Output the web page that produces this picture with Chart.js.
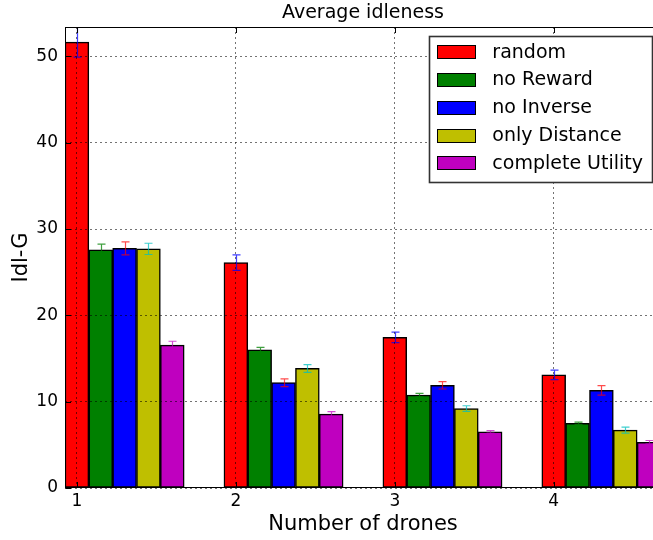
<!DOCTYPE html>
<html>
<head>
<meta charset="utf-8">
<title>Average idleness</title>
<script src="https://cdn.jsdelivr.net/npm/chart.js@4.4.1/dist/chart.umd.min.js"></script>
<style>
  html, body { margin: 0; padding: 0; background: #fff; overflow: hidden; }
  /* the plot frame runs a few pixels past the right edge of the window */
  #wrap { width: 661px; height: 540px; }
</style>
</head>
<body>
<div id="wrap"><canvas id="c" width="661" height="540"></canvas></div>
<script>
// Number of drones on the x axis
const droneCounts = [1, 2, 3, 4];
const xTicks = [1, 2, 3, 4];
const yTicks = [0, 10, 20, 30, 40, 50];

// Series names
const seriesNames = ['random', 'no Reward', 'no Inverse', 'only Distance', 'complete Utility'];

// Mean Idl-G per strategy and its spread
const randomIdl = [51.65, 26.1, 17.45, 13.1];
const randomErr = [1.75, 0.9, 0.6, 0.55];
const noRewardIdl = [27.6, 16.0, 10.75, 7.5];
const noRewardErr = [0.65, 0.3, 0.2, 0.12];
const noInverseIdl = [27.75, 12.2, 11.9, 11.3];
const noInverseErr = [0.75, 0.45, 0.43, 0.55];
const onlyDistanceIdl = [27.7, 13.85, 9.2, 6.7];
const onlyDistanceErr = [0.65, 0.45, 0.33, 0.35];
const completeUtilityIdl = [16.55, 8.55, 6.5, 5.3];
const completeUtilityErr = [0.45, 0.3, 0.15, 0.2];

const seriesValues = [randomIdl, noRewardIdl, noInverseIdl, onlyDistanceIdl, completeUtilityIdl];
const seriesErrors = [randomErr, noRewardErr, noInverseErr, onlyDistanceErr, completeUtilityErr];

const fillColors = ['#ff0000', '#008000', '#0000ff', '#bfbf00', '#bf00bf'];
const errColors = ['rgba(0,0,255,0.75)', 'rgba(0,128,0,0.75)', 'rgba(255,0,0,0.7)', 'rgba(0,191,191,0.75)', 'rgba(191,0,191,0.7)'];

const FONT = '"DejaVu Sans", "Bitstream Vera Sans", sans-serif';
const barStep = 0.15;   // each bar is one step wide, groups start at the drone count

const datasets = seriesNames.map((name, i) => ({
  label: name,
  data: droneCounts.map((d, j) => ({ x: d + i * barStep, y: seriesValues[i][j] })),
  errors: seriesErrors[i],
  errColor: errColors[i],
  backgroundColor: fillColors[i],
  borderColor: '#000',
  borderWidth: 1.5,
  borderSkipped: false
}));

// White page background
const whiteBg = {
  id: 'whiteBg',
  beforeDraw(chart) {
    const { ctx, width, height } = chart;
    ctx.save();
    ctx.fillStyle = '#fff';
    ctx.fillRect(0, 0, width, height);
    ctx.restore();
  }
};

// Vertical error bars with caps
const errorBars = {
  id: 'errorBars',
  afterDatasetsDraw(chart) {
    const { ctx, chartArea: a, scales: { y } } = chart;
    ctx.save();
    ctx.beginPath();
    ctx.rect(a.left, a.top, a.right - a.left, a.bottom - a.top);
    ctx.clip();
    ctx.lineWidth = 1.2;
    chart.data.datasets.forEach((ds, i) => {
      const meta = chart.getDatasetMeta(i);
      ctx.strokeStyle = ds.errColor;
      meta.data.forEach((bar, j) => {
        const v = ds.data[j].y, e = ds.errors[j];
        const top = y.getPixelForValue(v + e);
        const bot = y.getPixelForValue(v - e);
        const cx = Math.round(bar.x) + 0.5;
        ctx.beginPath();
        ctx.moveTo(cx, top); ctx.lineTo(cx, bot);
        ctx.moveTo(cx - 4, top); ctx.lineTo(cx + 4, top);
        ctx.moveTo(cx - 4, bot); ctx.lineTo(cx + 4, bot);
        ctx.stroke();
      });
    });
    ctx.restore();
  }
};

// Axes frame with inward tick marks
const frameTicks = {
  id: 'frameTicks',
  afterDraw(chart) {
    const { ctx, chartArea: a, scales: { x, y } } = chart;
    const L = Math.round(a.left) + 0.5, R = Math.round(a.right) - 0.5;
    const T = Math.round(a.top) + 0.5, B = Math.round(a.bottom) - 0.5;
    ctx.save();
    ctx.strokeStyle = '#000';
    ctx.lineWidth = 1;
    ctx.beginPath();
    xTicks.forEach(v => {
      const px = Math.round(x.getPixelForValue(v)) + 0.5;
      ctx.moveTo(px, B); ctx.lineTo(px, B - 5.5);
      ctx.moveTo(px, T); ctx.lineTo(px, T + 5.5);
    });
    yTicks.forEach(v => {
      const py = Math.round(y.getPixelForValue(v)) + 0.5;
      ctx.moveTo(L, py); ctx.lineTo(L + 5.5, py);
      ctx.moveTo(R, py); ctx.lineTo(R - 5.5, py);
    });
    ctx.stroke();
    ctx.strokeRect(L, T, R - L, B - T);
    ctx.restore();
  }
};

// Boxed legend in the upper right corner of the plot
const boxLegend = {
  id: 'boxLegend',
  afterDraw(chart) {
    const { ctx, chartArea: a } = chart;
    const size = 19, rowH = 27.75;
    ctx.save();
    ctx.font = size + 'px ' + FONT;
    const textW = Math.max(...chart.data.datasets.map(d => ctx.measureText(d.label).width));
    const w = 63 + textW + 9;
    const h = 146;
    const right = a.right - 9, top = a.top + 9;
    const left = right - w;
    ctx.fillStyle = '#fff';
    ctx.fillRect(left, top, w, h);
    ctx.strokeStyle = '#333';
    ctx.lineWidth = 1.6;
    ctx.strokeRect(Math.round(left) + 0.5, Math.round(top) + 0.5, Math.round(w), Math.round(h));
    chart.data.datasets.forEach((d, i) => {
      const cy = top + 16.3 + i * rowH;
      ctx.fillStyle = d.backgroundColor;
      ctx.fillRect(Math.round(left + 8), Math.round(cy - 7), 39, 14);
      ctx.strokeStyle = '#000';
      ctx.lineWidth = 1;
      ctx.strokeRect(Math.round(left + 8) + 0.5, Math.round(cy - 7) + 0.5, 38, 13);
      ctx.fillStyle = '#000';
      ctx.textBaseline = 'middle';
      ctx.textAlign = 'left';
      ctx.fillText(d.label, left + 63, cy + 0.5);
    });
    ctx.restore();
  }
};

const gridColor = 'rgba(0,0,0,0.55)';

new Chart(document.getElementById('c'), {
  type: 'bar',
  data: { datasets },
  plugins: [whiteBg, errorBars, frameTicks, boxLegend],
  options: {
    responsive: false,
    animation: false,
    devicePixelRatio: 1,
    layout: { padding: 0 },
    datasets: { bar: { grouped: false, categoryPercentage: 1, barPercentage: 1 } },
    plugins: {
      legend: { display: false },
      tooltip: { enabled: false },
      title: {
        display: true,
        fullSize: false,
        text: 'Average idleness',
        color: '#000',
        font: { family: FONT, size: 19, weight: 'normal' },
        padding: { top: 2, bottom: 2.2 }
      }
    },
    scales: {
      x: {
        type: 'linear',
        offset: false,
        min: 0.925,
        max: 4.675,
        afterBuildTicks: s => { s.ticks = xTicks.map(v => ({ value: v })); },
        afterFit: s => { s.height = 52; },
        grid: { z: 1, offset: false, color: gridColor, lineWidth: 1, drawTicks: false, borderDash: [2, 3] },
        border: { display: false, dash: [2, 3] },
        ticks: {
          color: '#000', padding: 3.4, autoSkip: false, maxRotation: 0,
          font: { family: FONT, size: 17 },
          callback: v => String(v)
        },
        title: {
          display: true, text: 'Number of drones', color: '#000',
          font: { family: FONT, size: 21 },
          padding: { top: 0, bottom: 2.4 }
        }
      },
      y: {
        type: 'linear',
        min: 0,
        max: 53.4,
        afterBuildTicks: s => { s.ticks = yTicks.map(v => ({ value: v })); },
        afterFit: s => { s.width = 65; },
        grid: { z: 1, color: gridColor, lineWidth: 1, drawTicks: false, borderDash: [2, 3] },
        border: { display: false, dash: [2, 3] },
        ticks: {
          color: '#000', padding: 7,
          font: { family: FONT, size: 17 },
          callback: v => String(v)
        },
        title: {
          display: true, text: 'Idl-G', color: '#000',
          font: { family: FONT, size: 21 },
          padding: { top: 9, bottom: 0 }
        }
      }
    }
  }
});
</script>
</body>
</html>
